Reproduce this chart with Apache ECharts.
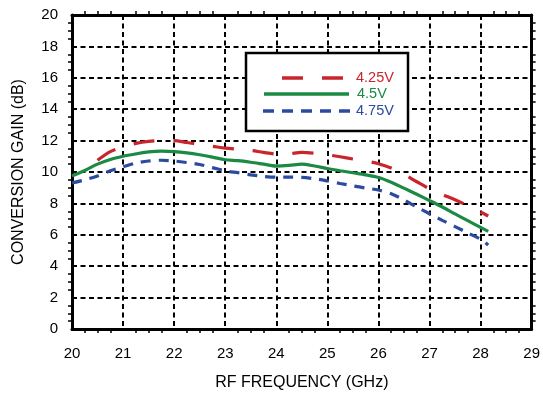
<!DOCTYPE html>
<html>
<head>
<meta charset="utf-8">
<script src="https://cdn.jsdelivr.net/npm/echarts@6/dist/echarts.min.js"></script>
<style>
html,body{margin:0;padding:0;background:#fff;}
#chart{width:543px;height:396px;}
</style>
</head>
<body>
<div id="chart"></div>
<script>
// ---- data ----
const freqGHz = [20, 20.25, 20.5, 20.75, 21, 21.25, 21.5, 21.75, 22, 22.25, 22.5, 22.75, 23, 23.25, 23.5, 23.75, 24, 24.25, 24.5, 24.75, 25, 25.25, 25.5, 25.75, 26, 26.25, 26.5, 26.75, 27, 27.25, 27.5, 27.75, 28, 28.15];
const gain425 = [null, null, 10.75, 11.3, 11.6, 11.82, 11.95, 12.0, 12.0, 11.88, 11.75, 11.64, 11.52, 11.45, 11.38, 11.25, 11.15, 11.17, 11.25, 11.2, 11.1, 10.97, 10.83, 10.7, 10.53, 10.25, 9.85, 9.38, 8.93, 8.57, 8.23, 7.85, 7.45, 7.2];
const gain45 = [9.75, 10.1, 10.5, 10.8, 11.0, 11.15, 11.28, 11.33, 11.3, 11.22, 11.1, 10.95, 10.78, 10.72, 10.62, 10.5, 10.38, 10.42, 10.5, 10.38, 10.22, 10.08, 9.95, 9.82, 9.65, 9.35, 8.97, 8.58, 8.18, 7.77, 7.33, 6.9, 6.47, 6.22];
const gain475 = [9.3, 9.5, 9.75, 10.08, 10.33, 10.57, 10.7, 10.75, 10.7, 10.6, 10.48, 10.28, 10.07, 9.95, 9.82, 9.72, 9.67, 9.67, 9.66, 9.57, 9.43, 9.27, 9.12, 8.98, 8.85, 8.62, 8.22, 7.77, 7.34, 6.92, 6.52, 6.12, 5.72, 5.35];
const seriesNames = ['4.25V', '4.5V', '4.75V'];
const xTicks = [20, 21, 22, 23, 24, 25, 26, 27, 28, 29];
const yTicks = [0, 2, 4, 6, 8, 10, 12, 14, 16, 18, 20];

const RED = '#c9252c', GREEN = '#1b8a43', BLUE = '#2b4aa0';
const FONT = '"Liberation Sans", Arial, Helvetica, sans-serif';

function pairs(ys) {
  const out = [];
  ys.forEach((v, i) => { if (v !== null) out.push([freqGHz[i], v]); });
  return out;
}

const gridLine = { show: true, lineStyle: { color: '#000', width: 2, type: [5, 3.5] } };
const minor = { show: true, splitNumber: 4, length: 4, lineStyle: { color: '#000', width: 1.5 } };
const axLine = { show: true, onZero: false, lineStyle: { color: '#000', width: 3 } };

const chart = echarts.init(document.getElementById('chart'), null, { renderer: 'canvas' });
chart.setOption({
  animation: false,
  backgroundColor: '#fff',
  grid: { left: 72, right: 10, top: 15, bottom: 66 },
  xAxis: [{
    type: 'value', min: xTicks[0], max: xTicks[xTicks.length - 1], interval: 1,
    position: 'bottom',
    name: 'RF FREQUENCY (GHz)', nameLocation: 'middle', nameGap: 46,
    nameTextStyle: { fontFamily: FONT, fontSize: 16, color: '#000' },
    axisLine: axLine,
    axisTick: { show: false },
    minorTick: Object.assign({}, minor, { inside: true }),
    axisLabel: { fontFamily: FONT, fontSize: 15, color: '#000', margin: 17 },
    splitLine: gridLine
  }, {
    type: 'value', min: xTicks[0], max: xTicks[xTicks.length - 1], interval: 1,
    position: 'top',
    axisLine: axLine,
    axisTick: { show: false },
    minorTick: Object.assign({}, minor, { inside: true }),
    axisLabel: { show: false },
    splitLine: { show: false }
  }],
  yAxis: [{
    type: 'value', min: yTicks[0], max: yTicks[yTicks.length - 1], interval: 2,
    position: 'left',
    name: 'CONVERSION GAIN (dB)', nameLocation: 'middle', nameGap: 45,
    nameTextStyle: { fontFamily: FONT, fontSize: 16, color: '#000' },
    axisLine: axLine,
    axisTick: { show: false },
    minorTick: Object.assign({}, minor, { inside: true }),
    axisLabel: { fontFamily: FONT, fontSize: 15, color: '#000', margin: 14 },
    splitLine: gridLine
  }, {
    type: 'value', min: yTicks[0], max: yTicks[yTicks.length - 1], interval: 2,
    position: 'right',
    axisLine: axLine,
    axisTick: { show: false },
    minorTick: Object.assign({}, minor, { inside: true }),
    axisLabel: { show: false },
    splitLine: { show: false }
  }],
  series: [
    { name: seriesNames[0], type: 'line', data: pairs(gain425), smooth: 0.3, showSymbol: false,
      lineStyle: { color: RED, width: 3.2, type: [21, 19] }, z: 5 },
    { name: seriesNames[1], type: 'line', data: pairs(gain45), smooth: 0.3, showSymbol: false,
      lineStyle: { color: GREEN, width: 3.2 }, z: 5 },
    { name: seriesNames[2], type: 'line', data: pairs(gain475), smooth: 0.3, showSymbol: false,
      lineStyle: { color: BLUE, width: 3.2, type: [10, 8] }, z: 5 }
  ],
  graphic: [
    { type: 'rect', z: 100, shape: { x: 246, y: 53, width: 162, height: 78 },
      style: { fill: '#fff', stroke: '#000', lineWidth: 2.5 } },
    { type: 'line', z: 101, shape: { x1: 282, y1: 78, x2: 343, y2: 78 },
      style: { stroke: RED, lineWidth: 3.5, lineDash: [21, 19] } },
    { type: 'line', z: 101, shape: { x1: 264, y1: 94, x2: 349, y2: 94 },
      style: { stroke: GREEN, lineWidth: 3.5 } },
    { type: 'line', z: 101, shape: { x1: 263, y1: 111, x2: 350, y2: 111 },
      style: { stroke: BLUE, lineWidth: 3.5, lineDash: [11, 8] } },
    { type: 'text', z: 101, x: 356, y: 78,
      style: { text: seriesNames[0], fill: RED, font: '14.5px ' + FONT, verticalAlign: 'middle' } },
    { type: 'text', z: 101, x: 357, y: 94,
      style: { text: seriesNames[1], fill: GREEN, font: '14.5px ' + FONT, verticalAlign: 'middle' } },
    { type: 'text', z: 101, x: 356, y: 111,
      style: { text: seriesNames[2], fill: BLUE, font: '14.5px ' + FONT, verticalAlign: 'middle' } }
  ]
});
</script>
</body>
</html>
